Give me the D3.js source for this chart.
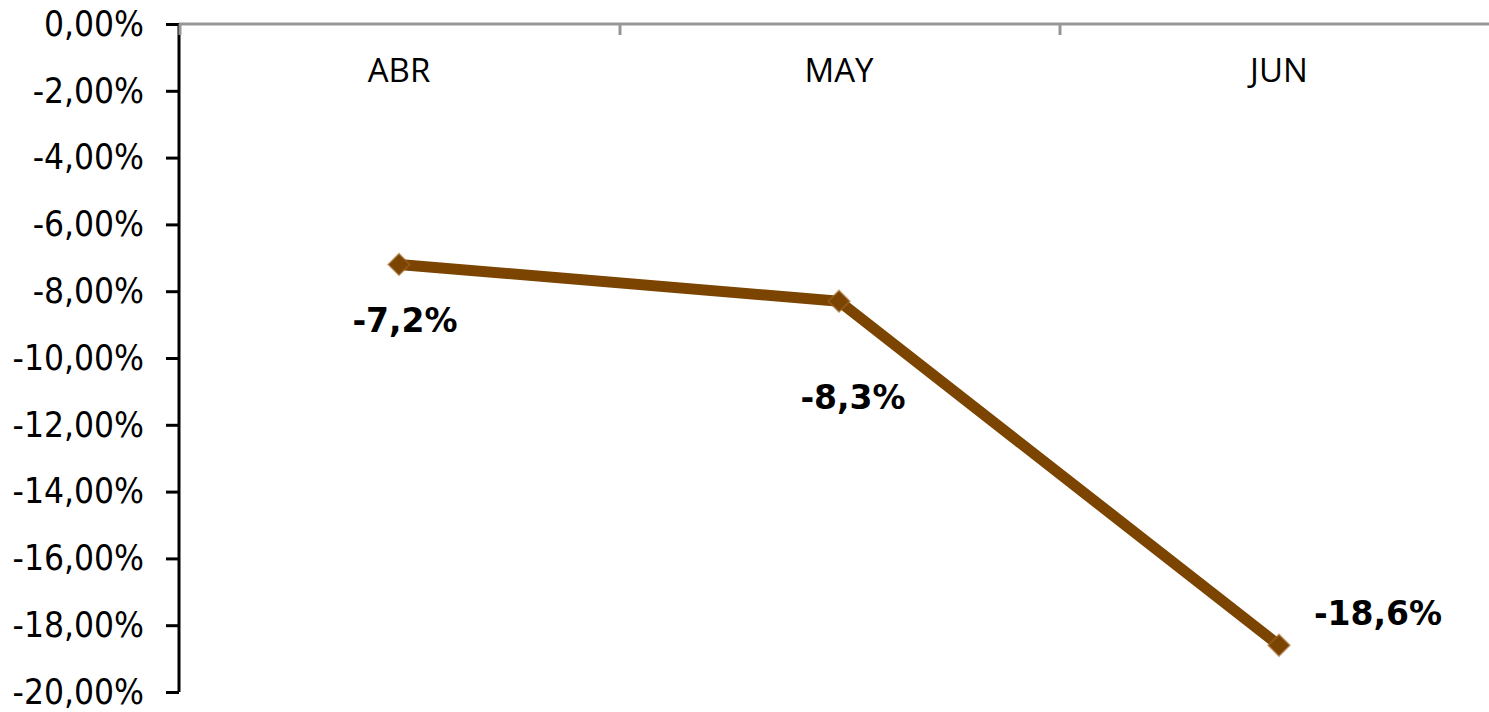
<!DOCTYPE html>
<html>
<head>
<meta charset="utf-8">
<script src="https://cdn.jsdelivr.net/npm/d3@7/dist/d3.min.js"></script>
<style>
html,body{margin:0;padding:0;background:#fff;}
svg{display:block;}
</style>
</head>
<body>
<svg id="chart" width="1489" height="712"></svg>
<script>
const categories = ["ABR", "MAY", "JUN"];
const values = [-7.2, -8.3, -18.6];
const valueLabels = ["-7,2%", "-8,3%", "-18,6%"];
const yTicks = [0, -2, -4, -6, -8, -10, -12, -14, -16, -18, -20];

// layout (not data)
const labelOffsets = [[6, 68], [14, 108], [99, -20]];
const W = 1489, H = 712;
const mLeft = 179, mRight = 1499, mTop = 24, mBottom = 692;

const svg = d3.select("#chart");
const x = d3.scaleBand().domain(categories).range([mLeft, mRight]).padding(0);
const y = d3.scaleLinear().domain([0, -20]).range([mTop, mBottom]);
const fmt = v => v.toFixed(2).replace(".", ",") + "%";

// Y axis
const yAxis = svg.append("g").attr("transform", `translate(${mLeft},0)`)
  .call(d3.axisLeft(y).tickValues(yTicks).tickSize(13).tickPadding(22).tickFormat(fmt));
yAxis.select(".domain").attr("stroke", "#000").attr("stroke-width", 3).attr("d", `M0,${mTop}V${mBottom}`);
yAxis.selectAll(".tick line").attr("stroke", "#000").attr("stroke-width", 3);
yAxis.selectAll(".tick text").attr("fill", "#000")
  .style("font-family", "'DejaVu Sans Condensed', 'DejaVu Sans', sans-serif")
  .style("font-stretch", "condensed")
  .style("font-size", "35px");

// X axis at top (gray)
const xg = svg.append("g");
xg.append("line").attr("x1", mLeft).attr("x2", W).attr("y1", mTop).attr("y2", mTop)
  .attr("stroke", "#979797").attr("stroke-width", 3);
const bounds = categories.map(c => x(c));
xg.selectAll("line.xt").data(bounds).enter().append("line").attr("class", "xt")
  .attr("x1", d => d + 1).attr("x2", d => d + 1).attr("y1", mTop).attr("y2", mTop + 11)
  .attr("stroke", "#979797").attr("stroke-width", 3);
xg.selectAll("text").data(categories).enter().append("text")
  .attr("x", d => x(d) + x.bandwidth() / 2)
  .attr("y", 82)
  .attr("text-anchor", "middle")
  .style("font-family", "'Open Sans', sans-serif")
  .style("font-size", "33px")
  .attr("fill", "#000")
  .text(d => d);

// Line
const pts = categories.map((c, i) => [x(c) + x.bandwidth() / 2, y(values[i])]);
svg.append("path").datum(pts)
  .attr("d", d3.line())
  .attr("fill", "none").attr("stroke", "#7b4400").attr("stroke-width", 11)
  .attr("stroke-linejoin", "round");

// Markers (diamond)
svg.selectAll("path.mk").data(pts).enter().append("path").attr("class", "mk")
  .attr("transform", d => `translate(${d[0]},${d[1]}) rotate(45)`)
  .attr("d", d3.symbol().type(d3.symbolSquare).size(230))
  .attr("fill", "#7b4400").attr("stroke", "#a06a30").attr("stroke-width", 2).attr("stroke-opacity", 0.5);

// Data labels
svg.selectAll("text.vl").data(pts).enter().append("text").attr("class", "vl")
  .attr("x", (d, i) => d[0] + labelOffsets[i][0])
  .attr("y", (d, i) => d[1] + labelOffsets[i][1])
  .attr("text-anchor", "middle")
  .style("font-family", "'DejaVu Sans', sans-serif")
  .style("font-weight", "bold")
  .style("font-size", "33px")
  .attr("fill", "#000")
  .text((d, i) => valueLabels[i]);
</script>
</body>
</html>
